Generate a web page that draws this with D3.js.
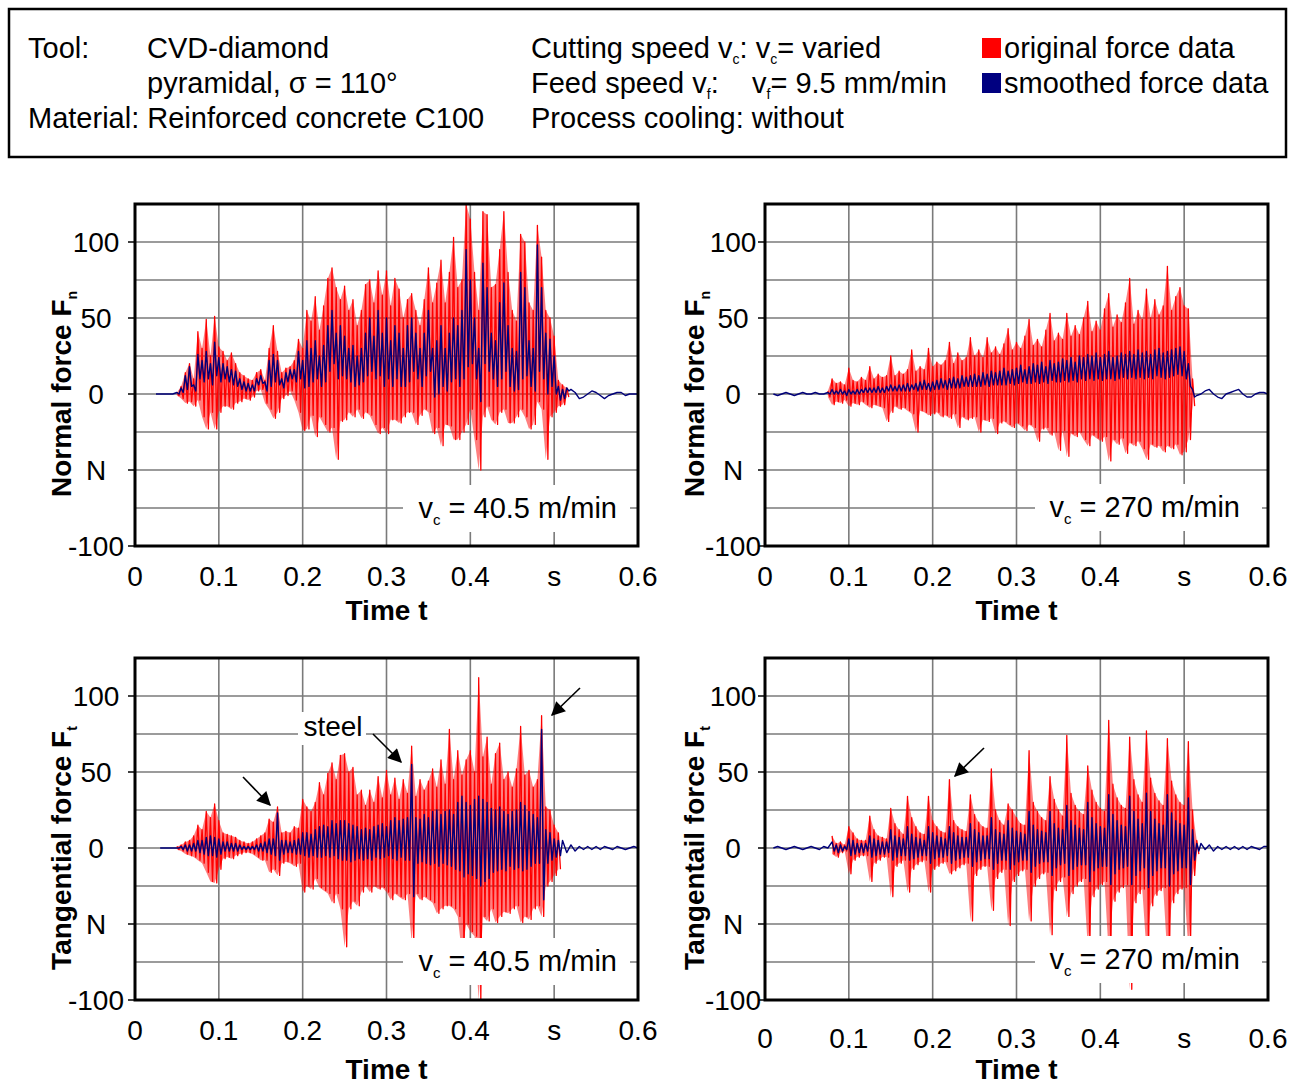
<!DOCTYPE html>
<html><head><meta charset="utf-8">
<script src="https://cdn.jsdelivr.net/npm/d3@7"></script>
<style>body{margin:0;background:#fff} svg{display:block;font-family:"Liberation Sans",Arial,Helvetica,sans-serif}</style>
</head><body><svg id="c" width="1293" height="1086"></svg>
<script>
// ---------- sampling grid (s) ----------
const SAMPLE_DT = 0.005;
const nul = n => Array(n).fill(null);

// ---------- axis ticks ----------
const xTickValues = [0, 0.1, 0.2, 0.3, 0.4, 0.5, 0.6];
const xTickLabels = ["0", "0.1", "0.2", "0.3", "0.4", "s", "0.6"];
const yTickValues = [100, 50, 0, -50, -100];
const yTickLabels = ["100", "50", "0", "N", "-100"];
const yGridValues = [100, 75, 50, 25, 0, -25, -50, -75];

// ---------- Panel 1: normal force, vc = 40.5 m/min ----------
const p1RedHi = [...nul(10),
1,5,14,20,10,41,30,49,25,51,
31,28,22,27,20,14,12,10,9,14,
16,9,30,45,28,14,17,18,22,36,
30,55,48,64,42,58,76,83,70,62,
71,55,62,45,55,72,75,60,81,65,
81,58,76,69,50,62,66,55,45,62,
83,60,73,88,60,80,103,70,75,125,
115,80,55,120,118,70,72,95,120,80,
55,48,105,100,60,55,111,90,55,50,
38,9,6,4, ...nul(17)];
const p1RedLo = [...nul(10),
-1,-3,-6,-5,-8,-4,-15,-23,-12,-23,
-12,-8,-8,-10,-6,-5,-3,-4,-2,2,
3,-6,-10,-16,-12,-3,-1,2,-4,-12,
-24,-23,-14,-28,-15,-20,-25,-22,-43,-18,
-17,-12,-15,-10,-16,-12,-14,-20,-26,-22,
-26,-17,-17,-19,-15,-12,-12,-20,-14,-10,
-12,-26,-22,-34,-20,-21,-30,-30,-25,-20,
-10,-30,-50,-15,-8,-17,-20,-12,-10,-19,
-19,-15,-10,-15,-23,-20,-5,-10,-43,-15,
-12,-8,-7,-2, ...nul(17)];
const p1BluHi = [...nul(5), 0,0,0,0,0,
1,4,12,18,6,26,22,28,20,34,
24,20,18,16,15,10,8,7,6,10,
12,8,22,26,22,10,14,16,16,28,
22,35,30,35,25,32,45,55,40,45,
38,30,32,25,30,40,50,38,55,40,
50,35,45,40,30,45,50,40,30,40,
55,30,35,45,30,40,50,45,55,95,
75,50,30,86,70,40,35,60,73,45,
30,28,80,70,35,30,98,70,40,36,
25,5,3,4,
3,1,-3,-2,0,2,1,-1,-3,-1,0,1,1,-1,0,0,0];
const p1BluLo = [...nul(10),
0,1,3,5,2,10,8,10,6,12,
8,10,8,6,5,3,2,2,2,6,
7,2,5,8,6,4,8,10,8,10,
4,5,8,10,5,8,15,20,10,12,
10,8,5,6,8,12,15,10,12,5,
10,5,10,5,5,8,15,10,5,12,
15,-2,0,5,2,8,10,5,10,18,
20,10,-5,20,15,10,5,10,15,5,
2,3,10,12,5,2,15,10,0,5,
0,-4,-3,2, ...nul(17)];

// ---------- Panel 2: normal force, vc = 270 m/min ----------
const p2RedHi = [...nul(15),
2,10,7,8,6,
17,9,8,11,9,18,10,13,11,12,
25,12,15,13,16,29,15,18,16,30,
18,21,19,22,34,20,27,22,24,37,
25,29,24,37,27,31,26,33,43,29,
34,30,38,49,32,36,31,42,53,35,
40,36,53,38,45,39,50,61,41,48,
42,56,66,44,52,47,60,76,46,55,
49,69,50,62,52,58,84,55,64,70,
58,56,10, ...nul(18)];
const p2RedLo = [...nul(15),
-2,-7,-5,-6,-4,
-8,-6,-7,-5,-7,-9,-7,-8,-9,-18,
-12,-8,-10,-9,-11,-13,-25,-11,-12,-14,
-13,-12,-15,-14,-16,-13,-22,-15,-17,-16,
-15,-25,-17,-18,-16,-26,-19,-18,-20,-22,
-19,-21,-24,-20,-22,-31,-23,-22,-27,-25,
-37,-24,-41,-26,-28,-25,-30,-34,-27,-29,
-31,-28,-44,-30,-33,-29,-39,-32,-34,-31,
-36,-43,-33,-35,-34,-38,-34,-36,-33,-40,
-38,-30,-8, ...nul(18)];
const p2BluHi = [null,null, 0,-1,0,1,0,-1,0,1,0,0,1,0,0,
1,3,2,3,2,
3,2,3,3,4,4,4,5,4,5,
6,5,6,6,7,6,7,8,9,7,
8,9,10,9,10,11,10,12,11,12,
13,12,14,13,15,14,15,17,15,16,
17,19,16,18,20,19,21,18,22,20,
21,23,22,24,21,25,24,26,25,27,
24,26,28,24,25,27,26,28,26,29,
27,28,26,29,30,27,28,29,30,31,
28,20,3,
-1,0,2,3,0,-2,-3,0,1,2,3,0,-2,-2,0,1,1,0];
const p2BluLo = [...nul(15),
0,0,0,0,-1,
0,0,0,1,1,1,1,1,1,2,
2,2,2,2,2,3,2,3,3,2,
3,3,4,3,4,4,4,5,5,5,
5,5,6,5,6,6,6,6,7,6,
7,8,7,7,8,7,8,7,9,8,
8,9,8,9,8,10,9,10,9,10,
9,10,10,9,10,11,10,11,10,11,
10,11,10,12,11,10,11,12,13,12,
10,5,-2, ...nul(18)];

// ---------- Panel 3: tangential force, vc = 40.5 m/min ----------
const p3RedHi = [...nul(10),
1,2,4,5,8,15,12,24,20,29,
18,10,9,8,7,5,4,3,4,6,
8,10,19,17,27,10,11,10,14,13,
32,27,24,30,43,35,49,56,45,61,
62,50,53,35,38,28,38,30,47,33,
51,35,46,32,45,36,67,34,45,38,
44,52,40,58,42,78,45,64,48,58,
64,50,112,60,73,42,62,69,45,50,
40,52,80,48,51,40,45,87,27,25,
15,10, ...nul(19)];
const p3RedLo = [...nul(10),
-1,-2,-4,-5,-6,-8,-10,-16,-22,-23,
-14,-7,-6,-7,-5,-4,-3,-3,-4,-6,
-8,-8,-16,-14,-18,-10,-9,-10,-12,-10,
-29,-25,-27,-20,-26,-28,-30,-36,-30,-40,
-65,-40,-35,-38,-29,-25,-29,-25,-27,-26,
-29,-34,-30,-32,-34,-30,-62,-30,-34,-32,
-34,-36,-43,-40,-38,-38,-40,-45,-70,-50,
-55,-58,-100,-45,-48,-40,-49,-45,-42,-43,
-40,-38,-49,-45,-47,-40,-38,-45,-25,-22,
-18,-14, ...nul(19)];
const p3BluHi = [...nul(6), 0,0,0,0,
0,1,2,2,3,5,5,7,8,7,
6,4,4,3,3,2,1,1,1,2,
3,4,6,6,23,5,5,4,5,6,
10,10,9,12,14,15,14,18,16,18,
18,16,15,14,12,13,12,14,15,16,
14,18,20,18,19,20,55,20,19,22,
20,24,25,22,24,25,22,30,34,30,
28,32,34,32,30,26,25,27,24,22,
24,25,30,28,24,22,20,78,12,10,
6,5,
5,-3,2,-2,1,-1,1,-1,1,-1,1,0,-1,1,0,-1,0,1,0];
const p3BluLo = [...nul(10),
0,-1,-2,-2,-2,-3,-4,-5,-5,-6,
-4,-2,-2,-2,-2,-1,-1,-1,-1,-2,
-2,-3,-4,-5,-8,-4,-3,-3,-4,-4,
-5,-6,-5,-6,-6,-5,-6,-5,-7,-8,
-8,-9,-8,-7,-8,-7,-8,-6,-7,-6,
-5,-7,-8,-6,-8,-8,-32,-10,-9,-10,
-11,-10,-12,-10,-11,-12,-14,-15,-19,-17,
-18,-20,-25,-22,-20,-16,-15,-14,-15,-12,
-14,-13,-15,-14,-12,-10,-10,-34,-10,-8,
-6,-5, ...nul(19)];

// ---------- Panel 4: tangential force, vc = 270 m/min ----------
const p4RedHi = [...nul(16),
8,3,4,2,
14,10,6,5,5,21,12,8,7,6,
26,16,12,9,34,20,14,10,9,34,
18,14,11,10,45,18,14,12,11,35,
22,17,14,13,52,25,18,15,29,25,
20,16,15,64,30,24,20,18,47,32,
25,21,74,36,28,24,22,54,38,30,
26,24,84,42,33,28,26,73,45,35,
30,77,46,36,31,28,72,44,35,30,
28,70,25,5, ...nul(17)];
const p4RedLo = [...nul(16),
-4,-6,-3,-2,
-17,-8,-6,-5,-5,-22,-10,-8,-6,-6,
-32,-12,-10,-8,-29,-14,-11,-9,-8,-29,
-14,-12,-10,-9,-17,-15,-13,-11,-10,-48,
-18,-14,-12,-12,-41,-20,-16,-14,-51,-22,
-18,-15,-14,-48,-25,-20,-17,-16,-57,-28,
-22,-19,-45,-30,-25,-22,-20,-65,-32,-27,
-24,-22,-70,-35,-29,-26,-24,-93,-36,-30,
-27,-68,-38,-31,-28,-26,-72,-36,-30,-27,
-26,-66,-18,-4, ...nul(17)];
const p4BluHi = [null,null, 0,1,0,-1,0,1,0,-1,0,1,0,-1,1,0,
4,2,2,1,
6,5,3,3,3,8,6,5,4,4,
12,8,7,6,14,9,7,6,5,14,
10,8,7,6,14,10,8,7,7,16,
12,10,8,8,20,12,10,9,18,13,
11,10,9,24,15,12,11,10,24,16,
13,12,28,18,15,13,12,30,20,16,
14,13,35,22,18,15,14,34,24,19,
16,36,24,19,16,15,35,23,18,16,
15,33,12,3,
3,-1,2,-2,1,-1,1,-1,1,-1,1,-1,1,0,-1,1,1];
const p4BluLo = [...nul(16),
-2,-3,-2,-1,
-5,-4,-3,-3,-2,-6,-5,-4,-4,-3,
-8,-6,-5,-5,-8,-7,-6,-5,-5,-10,
-7,-6,-6,-5,-10,-8,-7,-6,-6,-12,
-9,-8,-7,-7,-14,-10,-8,-8,-14,-11,
-9,-8,-8,-16,-12,-10,-9,-9,-18,-13,
-11,-10,-18,-14,-12,-11,-11,-22,-15,-13,
-12,-12,-24,-17,-14,-13,-12,-24,-18,-15,
-13,-26,-18,-15,-13,-13,-25,-17,-15,-13,
-13,-24,-8,-2, ...nul(17)];

// ---------- layout ----------
const panels = [
  {x0:135, x1:638, y0:204, y1:546, redHi:p1RedHi, redLo:p1RedLo, bluHi:p1BluHi, bluLo:p1BluLo,
   ylab:"Normal force F", sub:"n", vc:"40.5 m/min", labX:71, tickLX:96, xLabY:586, titleY:620, vcEnd:617, vcY:518, boxX:403},
  {x0:765, x1:1268, y0:204, y1:546, redHi:p2RedHi, redLo:p2RedLo, bluHi:p2BluHi, bluLo:p2BluLo,
   ylab:"Normal force F", sub:"n", vc:"270 m/min", labX:704, tickLX:733, xLabY:586, titleY:620, vcEnd:1240, vcY:517, boxX:1035},
  {x0:135, x1:638, y0:658, y1:1000, redHi:p3RedHi, redLo:p3RedLo, bluHi:p3BluHi, bluLo:p3BluLo,
   ylab:"Tangential force F", sub:"t", vc:"40.5 m/min", labX:71, tickLX:96, xLabY:1040, titleY:1079, vcEnd:617, vcY:971, boxX:403},
  {x0:765, x1:1268, y0:658, y1:1000, redHi:p4RedHi, redLo:p4RedLo, bluHi:p4BluHi, bluLo:p4BluLo,
   ylab:"Tangentail force F", sub:"t", vc:"270 m/min", labX:704, tickLX:733, xLabY:1048, titleY:1079, vcEnd:1240, vcY:969, boxX:1035}
];

const svg = d3.select("#c");
const defs = svg.append("defs");
defs.append("marker").attr("id","arr").attr("viewBox","0 0 10 10").attr("refX",9).attr("refY",5)
  .attr("markerWidth",16).attr("markerHeight",14).attr("markerUnits","userSpaceOnUse").attr("orient","auto")
  .append("path").attr("d","M0,0 L10,5 L0,10 z").attr("fill","#000");

// ---------- header ----------
const HF = 29;
const hdr = svg.append("g").attr("font-size",HF).attr("fill","#000");
hdr.append("rect").attr("x",9).attr("y",9).attr("width",1277).attr("height",148)
  .attr("fill","none").attr("stroke","#000").attr("stroke-width",2.5);
const hText = (x,y,s) => hdr.append("text").attr("x",x).attr("y",y).text(s);
hText(28,58,"Tool:");
hText(147,58,"CVD-diamond");
hText(147,93,"pyramidal, \u03c3 = 110\u00b0");
hText(28,128,"Material: Reinforced concrete C100");
const l1 = hdr.append("text").attr("x",531).attr("y",58);
l1.append("tspan").text("Cutting speed v");
l1.append("tspan").attr("font-size",14).attr("dy",6).text("c");
l1.append("tspan").attr("dy",-6).text(": v");
l1.append("tspan").attr("font-size",14).attr("dy",6).text("c");
l1.append("tspan").attr("dy",-6).text("= varied");
const l2 = hdr.append("text").attr("x",531).attr("y",93);
l2.append("tspan").text("Feed speed v");
l2.append("tspan").attr("font-size",14).attr("dy",6).text("f");
l2.append("tspan").attr("dy",-6).text(":");
const l2b = hdr.append("text").attr("x",752).attr("y",93);
l2b.append("tspan").text("v");
l2b.append("tspan").attr("font-size",14).attr("dy",6).text("f");
l2b.append("tspan").attr("dy",-6).text("= 9.5 mm/min");
hText(531,128,"Process cooling: without");
const legendItems = [{label:"original force data", color:"#ff0000"},{label:"smoothed force data", color:"#000080"}];
legendItems.forEach((d,i) => {
  hdr.append("rect").attr("x",982).attr("y",38+35*i).attr("width",19).attr("height",20).attr("fill",d.color);
  hText(1004,58+35*i,d.label);
});

// ---------- panels ----------
panels.forEach((p,pi) => {
  const x = d3.scaleLinear().domain([0,0.6]).range([p.x0,p.x1]);
  const y = d3.scaleLinear().domain([-100,125]).range([p.y1,p.y0]);
  const g = svg.append("g");
  const clipId = "clip"+pi;
  defs.append("clipPath").attr("id",clipId).append("rect")
    .attr("x",p.x0).attr("y",p.y0).attr("width",p.x1-p.x0).attr("height",p.y1-p.y0);

  // grid
  g.append("g").selectAll("line").data(xTickValues.slice(1,-1)).join("line")
    .attr("x1",d=>x(d)).attr("x2",d=>x(d)).attr("y1",p.y0).attr("y2",p.y1)
    .attr("stroke","#7a7a7a").attr("stroke-width",1.6);
  g.append("g").selectAll("line").data(yGridValues).join("line")
    .attr("x1",p.x0).attr("x2",p.x1).attr("y1",d=>y(d)).attr("y2",d=>y(d))
    .attr("stroke","#7a7a7a").attr("stroke-width",1.6);

  const zig = (hi,lo) => {
    const pts = [];
    hi.forEach((h,i) => {
      if (h == null) { pts.push(null); return; }
      const t = i*SAMPLE_DT;
      pts.push([t,h]);
      if (lo[i] != null) pts.push([t+SAMPLE_DT/2, lo[i]]);
    });
    return pts;
  };
  const env = (hi,lo) => hi.map((h,i) => (h != null && lo[i] != null) ? {t:i*SAMPLE_DT, hi:h, lo:lo[i]} : null);
  const line = d3.line().defined(d => d != null).x(d => x(d[0])).y(d => y(d[1]));
  const area = d3.area().defined(d => d != null).x(d => x(d.t)).y0(d => y(d.lo)).y1(d => y(d.hi));
  const data = g.append("g").attr("clip-path",`url(#${clipId})`);
  // red: light envelope fill + oscillating trace
  data.append("path").attr("d",area(env(p.redHi,p.redLo))).attr("fill","#ff0000").attr("fill-opacity",0.5);
  data.append("path").attr("d",line(zig(p.redHi,p.redLo))).attr("fill","none")
    .attr("stroke","#ff0000").attr("stroke-width",1.3).attr("stroke-linejoin","round");
  // blue: smoothed trace
  data.append("path").attr("d",line(zig(p.bluHi,p.bluLo))).attr("fill","none")
    .attr("stroke","#00007a").attr("stroke-width",1.4).attr("stroke-linejoin","round");

  // vc label box
  g.append("rect").attr("x",p.boxX).attr("y",p.vcY-33).attr("width",227).attr("height",47).attr("fill","#fff");
  const vt = g.append("text").attr("x",p.vcEnd).attr("y",p.vcY).attr("text-anchor","end").attr("font-size",29);
  vt.append("tspan").text("v");
  vt.append("tspan").attr("font-size",15).attr("dy",7).text("c");
  vt.append("tspan").attr("dy",-7).text(" = "+p.vc);

  // frame
  g.append("rect").attr("x",p.x0).attr("y",p.y0).attr("width",p.x1-p.x0).attr("height",p.y1-p.y0)
    .attr("fill","none").attr("stroke","#000").attr("stroke-width",3);
  // y ticks
  g.append("g").selectAll("line").data(yTickValues).join("line")
    .attr("x1",p.x0-7).attr("x2",p.x0).attr("y1",d=>y(d)).attr("y2",d=>y(d))
    .attr("stroke","#000").attr("stroke-width",1.5);
  g.append("g").selectAll("text").data(yTickValues).join("text")
    .attr("x",p.tickLX).attr("y",d=>y(d)+10).attr("text-anchor","middle").attr("font-size",28)
    .text((d,i)=>yTickLabels[i]);
  g.append("g").selectAll("text").data(xTickValues).join("text")
    .attr("x",d=>x(d)).attr("y",p.xLabY).attr("text-anchor","middle").attr("font-size",28)
    .text((d,i)=>xTickLabels[i]);
  g.append("text").attr("x",(p.x0+p.x1)/2).attr("y",p.titleY).attr("text-anchor","middle")
    .attr("font-size",28).attr("font-weight","bold").text("Time t");
  const yl = g.append("text").attr("transform",`translate(${p.labX},${y(0)}) rotate(-90)`)
    .attr("text-anchor","middle").attr("font-size",28).attr("font-weight","bold");
  yl.append("tspan").text(p.ylab);
  yl.append("tspan").attr("font-size",14).attr("dy",6).text(p.sub);
});

// ---------- annotations ----------
const ann = svg.append("g");
ann.append("rect").attr("x",298).attr("y",712).attr("width",68).attr("height",33).attr("fill","#fff");
ann.append("text").attr("x",333).attr("y",736).attr("text-anchor","middle").attr("font-size",28).text("steel");
const arrows = [[243,777,270,805],[373,734,401,762],[580,688,552,715],[984,748,955,776]];
ann.selectAll("line").data(arrows).join("line")
  .attr("x1",d=>d[0]).attr("y1",d=>d[1]).attr("x2",d=>d[2]).attr("y2",d=>d[3])
  .attr("stroke","#000").attr("stroke-width",1.6).attr("marker-end","url(#arr)");
</script></body></html>
